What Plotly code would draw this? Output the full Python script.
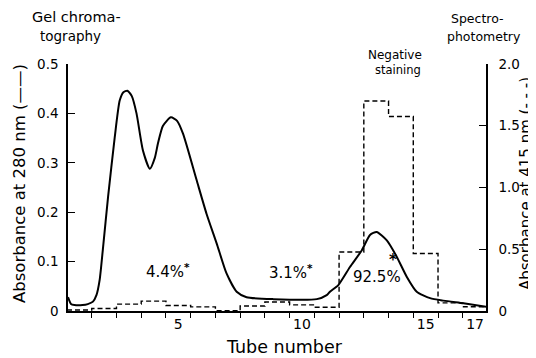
import plotly.graph_objects as go

# Solid curve: absorbance at 280 nm (left axis) vs tube number
a280_tube = [0.54, 0.66, 0.8, 1.13, 1.34, 1.55, 1.69, 1.82, 1.96, 2.16, 2.43, 2.63, 2.78, 2.94,
             3.12, 3.31, 3.57, 3.85, 4.05, 4.18, 4.38, 4.70, 4.95, 5.19, 5.74, 6.14, 6.55, 6.95,
             7.36, 7.76, 8.84, 10.6, 11.0, 11.13, 11.47, 11.94, 12.42, 12.75, 13.02, 13.43,
             13.83, 14.24, 14.64, 15.18, 15.72, 16.53, 17.44]
a280_val = [0.028, 0.014, 0.012, 0.012, 0.014, 0.019, 0.032, 0.063, 0.13, 0.231, 0.352, 0.426,
            0.443, 0.446, 0.435, 0.40, 0.325, 0.288, 0.31, 0.34, 0.375, 0.392, 0.385, 0.359,
            0.265, 0.197, 0.137, 0.076, 0.039, 0.028, 0.024, 0.024, 0.032, 0.039, 0.0525,
            0.089, 0.123, 0.154, 0.160, 0.143, 0.110, 0.069, 0.039, 0.026, 0.021, 0.0155, 0.0087]

# Dashed histogram: absorbance at 415 nm (right axis), one value per tube
tubes = list(range(1, 18))
a415 = [0.008, 0.02, 0.056, 0.08, 0.045, 0.033, 0.003, 0.04, 0.073, 0.05, 0.03,
        0.478, 1.70, 1.575, 0.465, 0.066, 0.035]

x_label_vals = [5, 10, 15, 17]
left_ticks = [0, 0.1, 0.2, 0.3, 0.4, 0.5]
left_text = ["0", "0.1", "0.2", "0.3", "0.4", "0.5"]
right_ticks = [0, 0.5, 1.0, 1.5, 2.0]
right_text = ["0", "0.5", "1.0", "1.5", "2.0"]

step_x = [t - 0.5 for t in tubes] + [tubes[-1] + 0.5]
step_y = a415 + [a415[-1]]
boundaries = [t + 0.5 for t in tubes[:-1]]

FONT = "DejaVu Sans"
fig = go.Figure()
fig.add_trace(go.Scatter(x=step_x, y=step_y, yaxis="y2", mode="lines",
                         line=dict(color="black", width=1.4, dash="5px,3px", shape="hv"),
                         showlegend=False))
fig.add_trace(go.Scatter(x=a280_tube, y=a280_val, mode="lines",
                         line=dict(color="black", width=2, shape="spline", smoothing=0.6),
                         showlegend=False))

# the page body has an 8px margin, so the figure is 8px smaller and margins shifted
fig.update_layout(
    width=528, height=350, margin=dict(l=60, r=50, t=56, b=47, pad=0),
    paper_bgcolor="white", plot_bgcolor="white",
    font=dict(family=FONT, size=13, color="black"),
    xaxis=dict(range=[0.54, 17.44], showline=True, linecolor="black", linewidth=1.5,
               showgrid=False, zeroline=False, tickmode="array", tickvals=x_label_vals,
               ticktext=[str(v) for v in x_label_vals], ticks="outside", ticklen=0,
               ticklabelstandoff=-1, tickfont=dict(size=14),
               minor=dict(tickmode="array", tickvals=boundaries, ticks="outside",
                          ticklen=5, tickwidth=1, tickcolor="black", showgrid=False)),
    yaxis=dict(range=[0, 0.5], showline=True, linecolor="black", linewidth=1.5,
               showgrid=False, zeroline=False, tickmode="array", tickvals=left_ticks,
               ticktext=left_text, ticks="inside", ticklen=7, tickwidth=1, tickcolor="black",
               ticklabelstandoff=5, tickfont=dict(size=13.5)),
    yaxis2=dict(range=[0, 2.0], overlaying="y", side="right", showline=True,
                linecolor="black", linewidth=1.5, showgrid=False, zeroline=False,
                tickmode="array", tickvals=right_ticks, ticktext=right_text,
                ticks="inside", ticklen=7, tickwidth=1, tickcolor="black",
                ticklabelstandoff=8, tickfont=dict(size=13.5)),
)

# plot area in page pixels: x 68..486, y 64..311
def px_x(px):
    return (px - 68) / (486 - 68)

def px_y(py):
    return (311 - py) / (311 - 64)

anns = [
    dict(text="Gel chroma-", x=px_x(76), y=px_y(17), size=14.5),
    dict(text="tography", x=px_x(70), y=px_y(36), size=13.5),
    dict(text="Spectro-", x=px_x(477), y=px_y(19), size=12.5),
    dict(text="photometry", x=px_x(484), y=px_y(37), size=12.5),
    dict(text="Negative", x=px_x(395), y=px_y(55), size=12),
    dict(text="staining", x=px_x(398), y=px_y(70), size=11.5),
    dict(text="Tube number", x=px_x(284), y=px_y(347), size=17.5),
    dict(text="Absorbance at 280 nm (——)", x=px_x(19), y=px_y(184), size=16.5, textangle=-90),
    dict(text="Absorbance at 415 nm (- - -)", x=px_x(526), y=px_y(184), size=15, textangle=-90),
]
for a in anns:
    size = a.pop("size")
    fig.add_annotation(xref="paper", yref="paper", showarrow=False,
                       xanchor="center", yanchor="middle",
                       font=dict(family=FONT, size=size, color="black"), **a)

# percentage labels in data coordinates
pct = dict(showarrow=False, xanchor="center", yanchor="middle",
           font=dict(family=FONT, size=15, color="black"))
fig.add_annotation(x=4.6, y=0.081, text="4.4%<sup><b>*</b></sup>", **pct)
fig.add_annotation(x=9.55, y=0.079, text="3.1%<sup><b>*</b></sup>", **pct)
fig.add_annotation(x=13.02, y=0.069, text="92.5%", **pct)
fig.add_annotation(x=13.66, y=0.104, text="<b>*</b>", **pct)

fig.write_html("out.html")
